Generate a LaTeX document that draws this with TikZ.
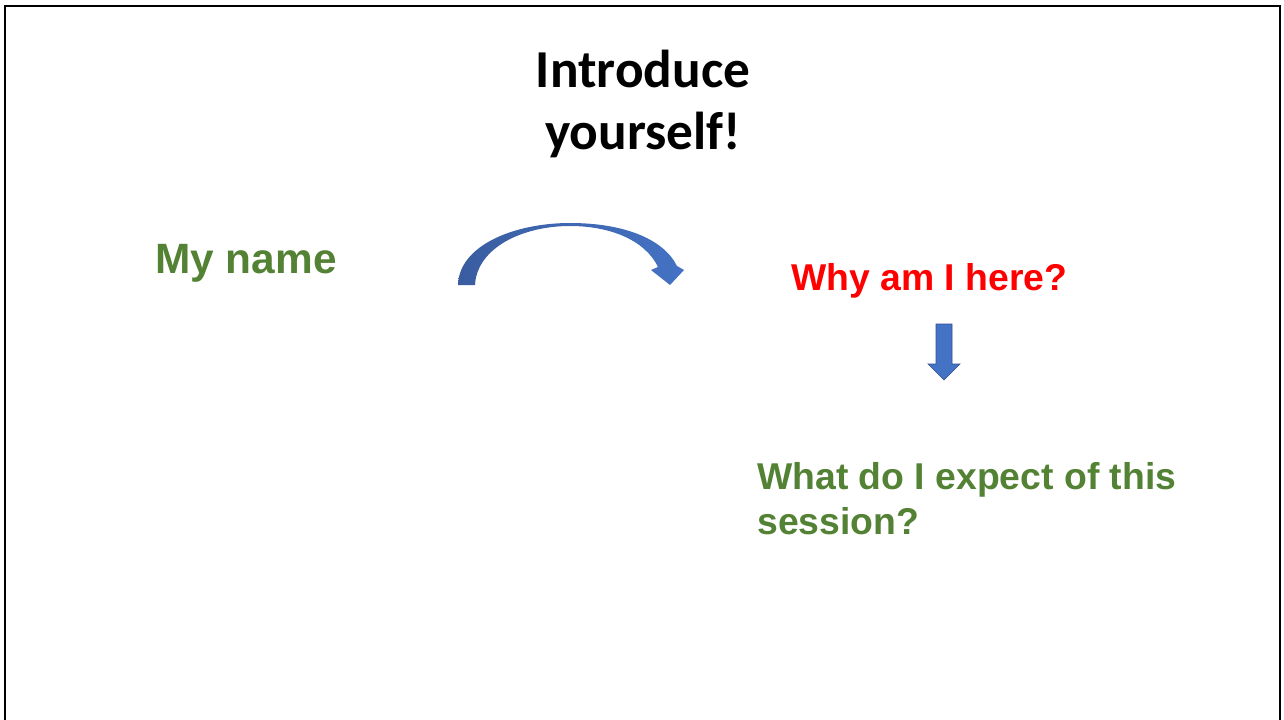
\documentclass[tikz,border=0pt]{standalone}
\usepackage{fontspec}
\setmainfont{Liberation Sans}
\newfontfamily\titlefont{Carlito}
\definecolor{txtgreen}{HTML}{548235}
\definecolor{txtred}{HTML}{FF0000}
\definecolor{arrblue}{HTML}{4472C4}
\definecolor{arrdark}{HTML}{2F528F}
\definecolor{arrleft}{HTML}{3A5DA0}
\tikzset{
  titletext/.style={inner sep=0pt, anchor=base, font=\titlefont\bfseries\fontsize{40}{46}\selectfont, text=black},
  greentext/.style={inner sep=0pt, anchor=base west, font=\bfseries\fontsize{28}{34}\selectfont, text=txtgreen},
  redtext/.style={inner sep=0pt, anchor=base west, font=\bfseries\fontsize{28}{34}\selectfont, text=txtred},
  blockarrow/.style={fill=arrblue, draw=arrdark, line width=0.5pt, line join=miter}
}
\begin{document}
\begin{tikzpicture}[x=0.75pt, y=-0.75pt]
\useasboundingbox (0,0) rectangle (1284,720);
% frame
\draw[line width=1.6pt] (5,726) -- (5,6) -- (1280,6) -- (1280,726);
% title
\node[titletext] (t1) at (643,88) {Introduce};
\node[titletext] (t2) at (643,150) {yourself!};
% texts
\node[greentext, font=\bfseries\fontsize{31.8}{38}\selectfont] (name) at (155,273) {My name};
\node[redtext] (why) at (791,291) {Why am I here?};
\node[greentext] (what1) at (757,489) {What do I expect of this};
\node[greentext] (what2) at (757,534) {session?};
% curved arrow
\path[left color=arrleft, right color=arrblue]
  (458,285) .. controls (459,245) and (515,223) .. (570,223)
  .. controls (622,223) and (663,238) .. (677,266)
  -- (684,270) -- (670,285) -- (651,270) -- (658,267)
  .. controls (645,240) and (610,226) .. (570,226)
  .. controls (522,226) and (477,248) .. (475,285) -- cycle;
% down arrow
\draw[blockarrow] (936,324) -- (952,324) -- (952,364) -- (960,364) -- (944,380) -- (928,364) -- (936,364) -- cycle;
\end{tikzpicture}
\end{document}
